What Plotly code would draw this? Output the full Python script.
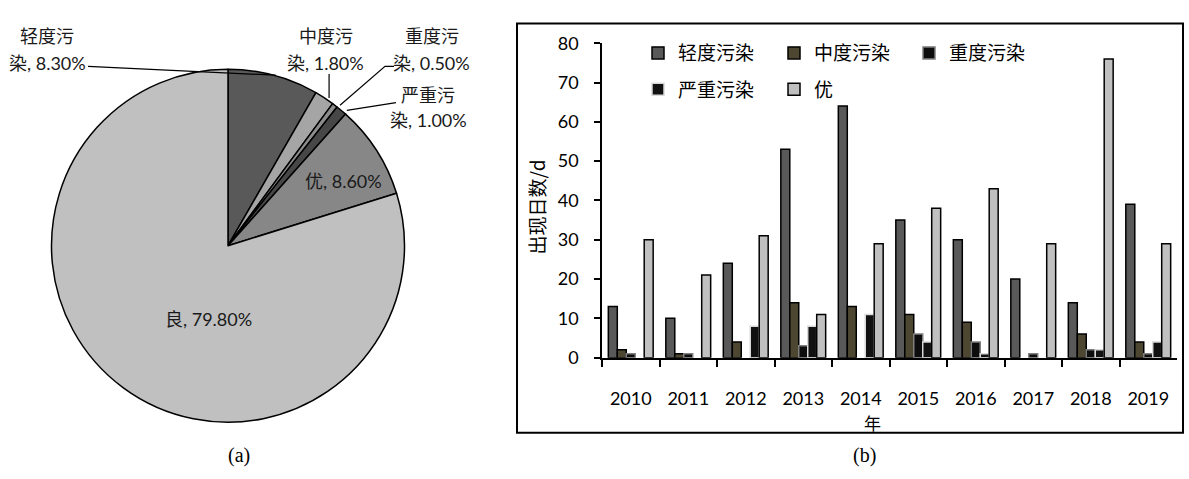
import math
import plotly.graph_objects as go

W, H = 1189, 479

# ---- (a) share of days by air-quality grade ----
pie_labels = ["轻度污染", "中度污染", "重度污染", "严重污染", "优", "良"]
pie_shares = [8.3, 1.8, 0.5, 1.0, 8.6, 79.8]
pie_colors = ["#595959", "#a5a5a5", "#8c8c8c", "#474747", "#878787", "#c0c0c0"]

# ---- (b) yearly number of days per grade ----
years = ["2010", "2011", "2012", "2013", "2014", "2015", "2016", "2017", "2018", "2019"]
light = [13, 10, 24, 53, 64, 35, 30, 20, 14, 39]
moderate = [2, 1, 4, 14, 13, 11, 9, 0, 6, 4]
heavy = [1, 1, 0, 3, 0, 6, 4, 1, 2, 1]
severe = [0, 0, 8, 8, 11, 4, 1, 0, 2, 4]
excellent = [30, 21, 31, 11, 29, 38, 43, 29, 76, 29]
bar_names = ["轻度污染", "中度污染", "重度污染", "严重污染", "优"]

FONT = "Lato, 'Noto Sans CJK SC', sans-serif"
CJK = "'Noto Sans CJK SC', sans-serif"


def px(x):
    return x / W


def py(y):
    return 1 - y / H


def note(x, y, text, font, **kw):
    return dict(x=px(x), y=py(y), xref="paper", yref="paper", text=text,
                showarrow=False, xanchor="center", yanchor="middle", font=font, **kw)


# pie geometry in pixels
CX, CY, R = 228, 245, 185

fig = go.Figure()

fig.add_trace(go.Pie(
    labels=pie_labels,
    values=pie_shares,
    sort=False,
    direction="clockwise",
    rotation=0,
    marker=dict(colors=pie_colors, line=dict(color="#000000", width=1.5)),
    textinfo="none",
    hoverinfo="label+percent",
    showlegend=False,
    domain=dict(x=[px(CX - R), px(CX + R)], y=[py(CY + R), py(CY - R)]),
))

bar_series = [light, moderate, heavy, severe, excellent]
bar_fill = ["#595959", "#4d4731", "#0d0d0d", "#111111", "#c0c0c0"]
bar_edge = ["#000000", "#000000", "#7f7f7f", "#d9d9d9", "#000000"]
legend_ids = ["legend", "legend2", "legend3", "legend4", "legend5"]

for name, vals, fc, lc, lg in zip(bar_names, bar_series, bar_fill, bar_edge, legend_ids):
    fig.add_trace(go.Bar(
        x=years,
        y=[v if v > 0 else None for v in vals],
        name=name,
        marker=dict(color=fc, line=dict(color=lc, width=1.5)),
        xaxis="x", yaxis="y",
        legend=lg,
    ))

# legend placement: three entries on the first row, two on the second
leg_pos = [(638, 43), (774, 43), (909, 43), (638, 81), (774, 81)]
leg_font = dict(family=CJK, size=19, color="#000000")
legend_layout = {}
for lg, (lx, ly) in zip(legend_ids, leg_pos):
    legend_layout[lg] = dict(
        x=px(lx), y=py(ly), xanchor="left", yanchor="middle",
        bgcolor="rgba(0,0,0,0)", borderwidth=0, font=leg_font,
        itemwidth=30, orientation="h",
    )

annotations = []
shapes = []

# pie labels with leader lines; tips are placed on the rim at each slice's mid-angle
cum = 0.0
tips = []
for share in pie_shares:
    theta = (cum + share / 2) / 100 * 2 * math.pi
    tips.append((CX + R * math.sin(theta), CY - R * math.cos(theta)))
    cum += share

pie_font = dict(family=FONT, size=18, color="#1a1a1a")
label_spots = {
    0: ((47, 25), (47, 53)),
    1: ((326, 25), (325, 53)),
    2: ((432, 25), (431, 53)),
    3: ((428, 87), (428, 113)),
}
for i, ((x1, y1), (x2, y2)) in label_spots.items():
    name = pie_labels[i]
    annotations.append(note(x1, y1, name[:3], pie_font))
    annotations.append(note(x2, y2, f"{name[3:]}, {pie_shares[i]:.2f}%", pie_font))

leader_starts = {
    0: [(88, 57)],
    1: [(tips[1][0], 65)],
    2: [(394, 57), (385, 57)],
    3: [(396, 95)],
}
for i, pts in leader_starts.items():
    allpts = pts + [tips[i]]
    path = "M " + " L ".join(f"{px(x):.5f},{py(y):.5f}" for x, y in allpts)
    shapes.append(dict(type="path", path=path, xref="paper", yref="paper",
                       line=dict(color="#000000", width=1.2)))

# inside labels
for i, (lx, ly) in {4: (343, 177), 5: (208, 322)}.items():
    annotations.append(note(lx, ly, f"{pie_labels[i]}, {pie_shares[i]:.2f}%", pie_font))

# axis titles of the bar chart
annotations.append(note(537, 205, "出现日数/d", dict(family=CJK, size=19, color="#000000"),
                        textangle=-90))
annotations.append(note(872, 430, "年", dict(family=CJK, size=17, color="#000000")))

# panel captions
for txt, cx in (("(a)", 239), ("(b)", 865)):
    annotations.append(note(cx, 465, txt,
                            dict(family="'Liberation Serif', serif", size=20, color="#000000")))

# frame around panel (b)
shapes.append(dict(type="rect", xref="paper", yref="paper",
                   x0=px(517), x1=px(1183), y0=py(441), y1=py(12),
                   line=dict(color="#000000", width=2)))

fig.update_layout(
    width=W, height=H,
    margin=dict(l=0, r=0, t=0, b=0),
    paper_bgcolor="#ffffff",
    plot_bgcolor="#ffffff",
    barmode="group",
    bargap=0.22,
    bargroupgap=0,
    xaxis=dict(
        domain=[px(602), px(1177)],
        type="category",
        showline=True, linecolor="#000000", linewidth=1.5,
        ticks="outside", tickson="boundaries", ticklen=8, tickwidth=1.5, tickcolor="#000000",
        ticklabelstandoff=24,
        tickfont=dict(family=FONT, size=18, color="#000000"),
        showgrid=False, zeroline=False, fixedrange=True,
    ),
    yaxis=dict(
        domain=[py(362.3), py(32.7)],
        range=[0, 80], dtick=10,
        showline=True, linecolor="#000000", linewidth=1.5,
        ticks="outside", ticklen=6, tickwidth=1.5, tickcolor="#000000",
        ticklabelstandoff=12,
        tickfont=dict(family=FONT, size=18, color="#000000"),
        showgrid=False, zeroline=False, fixedrange=True,
    ),
    annotations=annotations,
    shapes=shapes,
    **legend_layout,
)

fig.write_html("out.html")
